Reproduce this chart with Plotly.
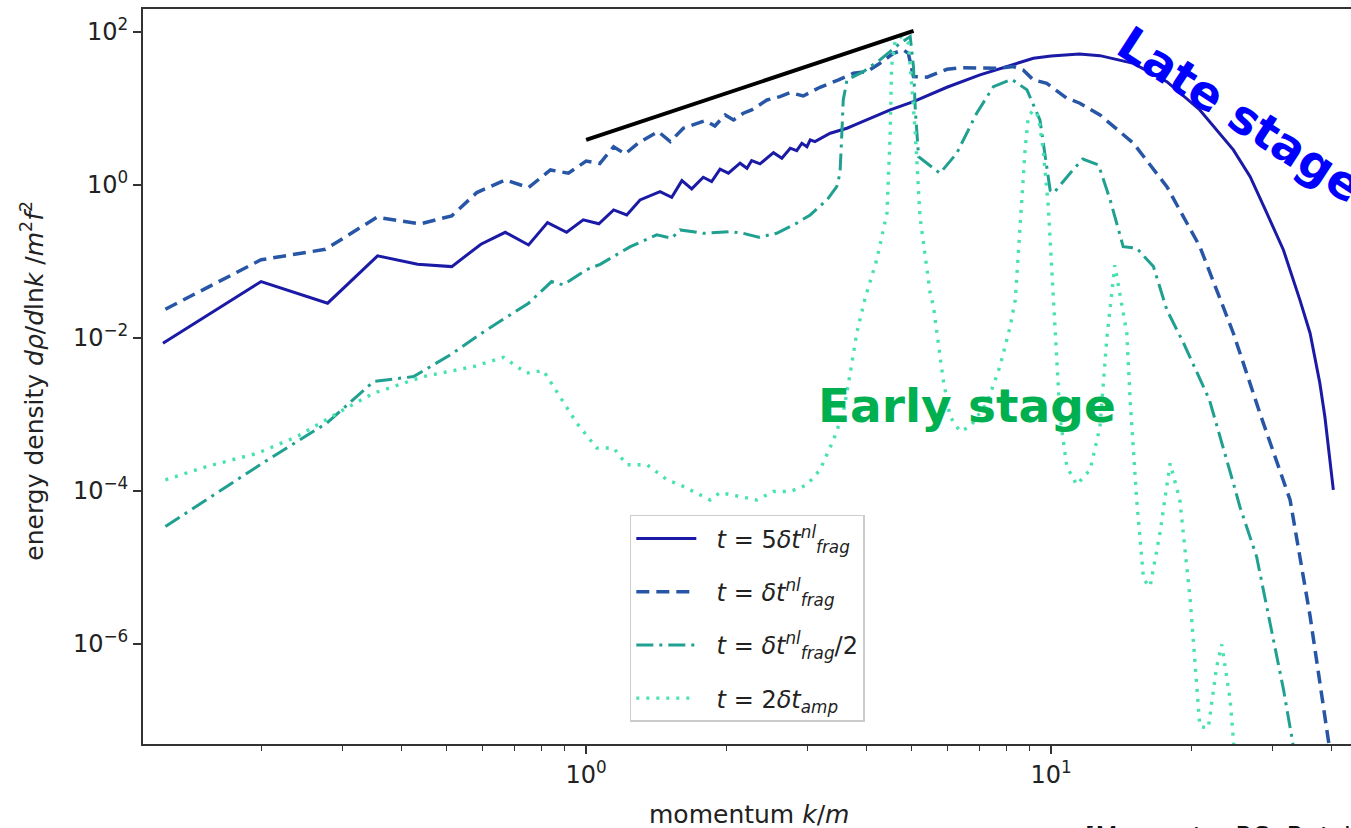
import plotly.graph_objects as go

# ---------------- data ----------------
k_solid = [0.123, 0.200, 0.278, 0.356, 0.434, 0.514, 0.594, 0.670, 0.752, 0.826, 0.908, 0.986,
           1.065, 1.146, 1.223, 1.306, 1.442, 1.528, 1.607, 1.687, 1.786, 1.862, 1.941, 2.023,
           2.143, 2.218, 2.270, 2.366, 2.529, 2.636, 2.748, 2.838, 2.911, 2.985, 3.034, 3.105,
           3.350, 3.639, 3.784, 4.083, 4.508, 5.058, 5.970, 7.031, 8.299, 9.162, 10.0, 11.5,
           12.74, 15.03, 17.74, 20.89, 24.66, 26.8, 29.11, 31.6, 34.28, 36.06, 37.84, 38.8, 40.46]
y_solid = [8.5e-3, 0.0545, 0.0284, 0.118, 0.0918, 0.0855, 0.1675, 0.240, 0.164, 0.322, 0.240, 0.35,
           0.31, 0.471, 0.405, 0.637, 0.818, 0.690, 1.138, 0.887, 1.259, 1.104, 1.603, 1.422,
           1.923, 1.652, 2.080, 1.884, 2.642, 2.234, 3.020, 2.805, 3.508, 3.162, 3.873, 3.681,
           4.742, 5.508, 6.081, 7.447, 9.550, 12.27, 18.92, 27.42, 37.07, 45.29, 48.5, 51.3,
           49.0, 38.9, 22.4, 9.55, 2.87, 1.28, 0.427, 0.141, 0.0314, 0.0115, 2.57e-3, 9.3e-4, 1.03e-4]

k_dash = [0.1245, 0.200, 0.275, 0.355, 0.440, 0.514, 0.582, 0.670, 0.752, 0.838, 0.916, 1.0,
          1.07, 1.146, 1.213, 1.294, 1.429, 1.517, 1.618, 1.702, 1.803, 1.892, 1.991, 2.075,
          2.178, 2.270, 2.449, 2.612, 2.748, 2.931, 3.184, 3.491, 3.758, 4.018, 4.285, 4.581,
          4.808, 4.932, 5.058, 5.408, 5.970, 6.471, 7.031, 7.638, 8.299, 8.71, 9.16, 9.79,
          10.81, 11.53, 12.74, 15.03, 17.74, 20.89, 24.66, 28.18, 32.66, 36.06, 39.45, 40.3]
y_dash = [0.0237, 0.105, 0.144, 0.378, 0.309, 0.394, 0.794, 1.161, 0.923, 1.570, 1.422, 2.05,
          1.9, 3.16, 2.54, 3.51, 4.98, 3.68, 5.51, 6.08, 6.93, 5.90, 8.22, 7.08,
          8.65, 9.55, 12.9, 14.26, 16.1, 14.55, 18.9, 23.6, 28.8, 30.3, 38.9, 52.6,
          58.2, 52.5, 26.1, 25.6, 32.5, 34.1, 33.5, 33.5, 35.2, 31.8, 23.6, 21.3,
          13.6, 11.7, 8.22, 3.51, 0.95, 0.156, 0.0115, 1.0e-3, 7.6e-5, 2.3e-6, 5.6e-8, 2.5e-8]

k_dashdot = [0.1245, 0.1714, 0.204, 0.2767, 0.349, 0.4256, 0.5105, 0.611, 0.675, 0.752, 0.843, 0.893,
             1.0, 1.072, 1.245, 1.419, 1.528, 1.592, 1.786, 2.042, 2.178, 2.350, 2.570, 2.679,
             2.838, 3.034, 3.296, 3.459, 3.516, 3.548, 3.573, 3.639, 3.945, 4.285, 4.732, 4.977,
             5.058, 5.105, 5.188, 5.408, 5.768, 6.266, 6.918, 7.516, 8.222, 8.872, 9.462, 9.954,
             10.12, 10.99, 11.7, 12.65, 13.40, 14.29, 15.28, 16.60, 17.74, 19.28, 21.9, 24.66,
             25.47, 27.67, 29.85, 31.62, 33.11, 33.9]
y_dashdot = [3.42e-5, 1.20e-4, 2.42e-4, 7.67e-4, 2.69e-3, 3.12e-3, 6.0e-3, 0.01274, 0.0186, 0.0284, 0.0545, 0.0493,
             0.0774, 0.0915, 0.156, 0.222, 0.201, 0.258, 0.233, 0.245, 0.233, 0.207, 0.233, 0.264,
             0.316, 0.405, 0.637, 0.95, 1.42, 4.74, 12.9, 23.6, 30.3, 43.1, 71.1, 86.9,
             35.2, 9.55, 2.34, 1.92, 1.42, 2.59, 8.65, 19.3, 24.1, 17.5, 7.08, 0.85,
             0.78, 1.42, 2.18, 1.82, 0.637, 0.156, 0.149, 0.0855, 0.0232, 8.5e-3, 1.55e-3, 1.26e-4,
             6.2e-5, 1.38e-5, 1.38e-6, 2.5e-7, 5.0e-8, 2.0e-8]

k_dot = [0.1245, 0.153, 0.196, 0.239, 0.296, 0.349, 0.447, 0.573, 0.664, 0.745, 0.809, 0.879,
         0.955, 1.054, 1.146, 1.223, 1.352, 1.493, 1.592, 1.730, 1.849, 1.941, 2.143, 2.328,
         2.529, 2.748, 2.985, 3.184, 3.404, 3.573, 3.698, 3.819, 3.98, 4.217, 4.436, 4.508,
         4.539, 4.624, 4.775, 4.932, 5.012, 5.105, 5.224, 5.495, 5.585, 5.861, 6.067, 6.368,
         6.699, 7.278, 7.762, 8.166, 8.375, 8.570, 8.790, 8.933, 9.162, 9.397, 9.616, 9.863,
         10.12, 10.45, 10.81, 11.35, 12.13, 12.74, 13.18, 13.71, 14.55, 14.79, 15.28, 15.81,
         16.33, 17.14, 18.03, 18.92, 19.91, 20.89, 21.78, 22.70, 23.28, 24.27, 24.66, 25.1]
y_dot = [1.39e-4, 2.09e-4, 3.09e-4, 5.13e-4, 1.09e-3, 1.89e-3, 3.12e-3, 4.22e-3, 5.58e-3, 3.46e-3, 3.74e-3, 1.71e-3,
         7.67e-4, 3.63e-4, 3.63e-4, 2.19e-4, 2.19e-4, 1.39e-4, 1.20e-4, 9.3e-5, 7.6e-5, 9.5e-5, 8.5e-5, 7.6e-5,
         9.8e-5, 9.8e-5, 1.20e-4, 1.88e-4, 4.65e-4, 1.04e-3, 3.47e-3, 0.0115, 0.033, 0.105, 0.427, 4.74,
         35.2, 78.5, 86.9, 71.1, 21.3, 4.74, 0.385, 0.0384, 0.0257, 2.82e-3, 9.3e-4, 6.0e-4,
         6.9e-4, 1.41e-3, 4.22e-3, 0.0141, 0.0314, 0.233, 2.86, 7.82, 9.55, 7.82, 2.86, 0.52,
         0.0347, 9.3e-4, 2.09e-4, 1.20e-4, 1.88e-4, 6.9e-4, 0.01, 0.0891, 0.0115, 1.55e-3, 7.6e-5, 6.9e-6,
         5.6e-6, 2.8e-5, 2.29e-4, 7.6e-5, 3.8e-6, 8.3e-8, 7.9e-8, 5.0e-7, 9.8e-7, 1.86e-7, 5.6e-8, 1.6e-8]

k_ref = [1.0, 5.06]
y_ref = [3.87, 103.0]

names = ["&nbsp;&nbsp;<i>t</i> = 5<i>δt</i><sup><i>nl</i></sup><sub><i>frag</i></sub>",
         "&nbsp;&nbsp;<i>t</i> = <i>δt</i><sup><i>nl</i></sup><sub><i>frag</i></sub>",
         "&nbsp;&nbsp;<i>t</i> = <i>δt</i><sup><i>nl</i></sup><sub><i>frag</i></sub>/2",
         "&nbsp;&nbsp;<i>t</i> = 2<i>δt</i><sub><i>amp</i></sub>"]

y_tickvals = [1e2, 1e0, 1e-2, 1e-4, 1e-6]
y_ticktext = ["10<sup>2</sup>", "10<sup>0</sup>", "10<sup>−2</sup>", "10<sup>−4</sup>", "10<sup>−6</sup>"]
x_tickvals = [1, 10]
x_ticktext = ["10<sup>0</sup>", "10<sup>1</sup>"]
x_minor = [0.2, 0.3, 0.4, 0.5, 0.6, 0.7, 0.8, 0.9, 2, 3, 4, 5, 6, 7, 8, 9, 20, 30, 40]

FONT = "DejaVu Sans"

fig = go.Figure()
fig.add_trace(go.Scatter(x=k_solid, y=y_solid, mode="lines", name=names[0], legendgroup="a",
                         line=dict(color="#1a1aa6", width=3)))
fig.add_trace(go.Scatter(x=k_dash, y=y_dash, mode="lines", name=names[1], legendgroup="b",
                         line=dict(color="#2856a6", width=3.5, dash="13px,7px")))
fig.add_trace(go.Scatter(x=k_dashdot, y=y_dashdot, mode="lines", name=names[2], legendgroup="c",
                         line=dict(color="#1fa090", width=3, dash="17px,6px,3px,6px")))
fig.add_trace(go.Scatter(x=k_dot, y=y_dot, mode="lines", name=names[3], legendgroup="d",
                         line=dict(color="#48e2b2", width=3.4, dash="3px,7px")))
fig.add_trace(go.Scatter(x=k_ref, y=y_ref, mode="lines", showlegend=False,
                         line=dict(color="black", width=4)))

fig.update_layout(
    width=1351, height=828,
    margin=dict(l=143, r=0, t=9, b=84),
    paper_bgcolor="white", plot_bgcolor="white",
    font=dict(family=FONT, size=24, color="#222"),
    showlegend=True,
    legend=dict(x=0.403, y=0.3116, xanchor="left", yanchor="top",
                bgcolor="white", bordercolor="#cccccc", borderwidth=1.5,
                font=dict(family=FONT, size=24, color="#222"),
                tracegroupgap=19, itemwidth=60),
    xaxis=dict(type="log", range=[-0.953, 1.645], showgrid=False, zeroline=False,
               showline=True, linecolor="#333", linewidth=2, mirror=True,
               ticks="outside", ticklen=8, tickwidth=1.5, tickcolor="#333",
               tickmode="array", tickvals=x_tickvals, ticktext=x_ticktext,
               tickfont=dict(family=FONT, size=24, color="#222"),
               minor=dict(ticks="outside", ticklen=5, tickwidth=1.2, tickcolor="#333",
                          tickmode="array", tickvals=x_minor, showgrid=False)),
    yaxis=dict(type="log", range=[-7.31, 2.30], showgrid=False, zeroline=False,
               showline=True, linecolor="#333", linewidth=2,
               ticks="outside", ticklen=8, tickwidth=1.5, tickcolor="#333",
               tickfont=dict(family=FONT, size=24, color="#222"),
               tickmode="array", tickvals=y_tickvals, ticktext=y_ticktext),
    annotations=[
        dict(text="energy density <i>dρ</i>/<i>d</i>ln<i>k</i> /<i>m</i><sup>2</sup><i>f</i><sup>2</sup>",
             xref="paper", yref="paper", x=-0.0915, y=0.495, textangle=-90,
             xanchor="center", yanchor="middle",
             showarrow=False, font=dict(family=FONT, size=25, color="#222")),
        dict(text="momentum <i>k</i>/<i>m</i>", xref="paper", yref="paper", x=0.502, y=-0.096,
             xanchor="center", yanchor="middle",
             showarrow=False, font=dict(family=FONT, size=25, color="#222")),
        dict(text="<b>Early stage</b>", xref="paper", yref="paper", x=0.682, y=0.461,
             xanchor="center", yanchor="middle",
             showarrow=False, font=dict(family=FONT, size=47, color="#00b050")),
        dict(text="<b>Late stage</b>", xref="paper", yref="paper", x=0.908, y=0.856, textangle=33,
             xanchor="center", yanchor="middle",
             showarrow=False, font=dict(family=FONT, size=47, color="#0000ff")),
        dict(text="[Morgante, RS, Ratzinger, Stefanek]", xref="paper", yref="paper",
             x=0.778, y=-0.103, xanchor="left", yanchor="top",
             showarrow=False, font=dict(family=FONT, size=26, color="#111")),
    ],
)

fig.write_html("out.html")
